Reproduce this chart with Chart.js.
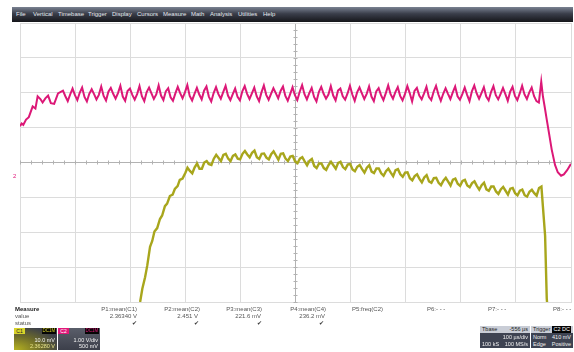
<!DOCTYPE html>
<html>
<head>
<meta charset="utf-8">
<script src="https://cdn.jsdelivr.net/npm/chart.js@4/dist/chart.umd.min.js"></script>
<style>
  html, body { margin: 0; padding: 0; background: #fff; }
  body { width: 574px; height: 352px; position: relative; overflow: hidden;
         font-family: "Liberation Sans", Arial, sans-serif; }
  #scope { position: absolute; left: 0; top: 0; }
  .menubar { position: absolute; left: 12px; top: 7px; width: 561px; height: 15px;
             background: linear-gradient(#7a8292 0%, #3a3e4a 45%, #15161a 100%); }
  .menubar span { position: absolute; top: 4px; font-size: 6px; line-height: 7px; color: #e6e8ee; white-space: nowrap; }
  .t { position: absolute; font-size: 6px; line-height: 7px; color: #555; white-space: nowrap; }
  .r { text-align: right; }
  .b { font-weight: bold; color: #222; }
  .chk { position: absolute; font-size: 6px; line-height: 7px; color: #333; }
  .box { position: absolute; overflow: hidden; }
  .box .row { position: absolute; left: 0; right: 0; font-size: 5.5px; line-height: 6px; white-space: nowrap; }
</style>
</head>
<body>
<canvas id="scope" width="574" height="352"></canvas>

<div class="menubar">
  <span style="left:4px">File</span>
  <span style="left:21px">Vertical</span>
  <span style="left:46px">Timebase</span>
  <span style="left:76px">Trigger</span>
  <span style="left:100px">Display</span>
  <span style="left:125px">Cursors</span>
  <span style="left:151px">Measure</span>
  <span style="left:179px">Math</span>
  <span style="left:198px">Analysis</span>
  <span style="left:226px">Utilities</span>
  <span style="left:251px">Help</span>
</div>

<!-- measurement table -->
<div class="t b" style="left:15px; top:306px">Measure</div>
<div class="t" style="left:15px; top:313px">value</div>
<div class="t" style="left:15px; top:320px">status</div>

<div class="t r" style="right:437px; top:306px">P1:mean(C1)</div>
<div class="t r" style="right:437px; top:313px">2.36340 V</div>
<div class="chk" style="left:132px; top:320px">✔</div>

<div class="t r" style="right:374px; top:306px">P2:mean(C2)</div>
<div class="t r" style="right:376px; top:313px">2.451 V</div>
<div class="chk" style="left:194px; top:320px">✔</div>

<div class="t r" style="right:312px; top:306px">P3:mean(C3)</div>
<div class="t r" style="right:313px; top:313px">221.6 mV</div>
<div class="chk" style="left:257px; top:320px">✔</div>

<div class="t r" style="right:248px; top:306px">P4:mean(C4)</div>
<div class="t r" style="right:249px; top:313px">236.2 mV</div>
<div class="chk" style="left:319px; top:320px">✔</div>

<div class="t" style="left:352px; top:306px">P5:freq(C2)</div>
<div class="t" style="left:427px; top:306px">P6:- - -</div>
<div class="t" style="left:488px; top:306px">P7:- - -</div>
<div class="t" style="left:553px; top:306px">P8:- - -</div>

<!-- channel descriptors -->
<div class="box" style="left:14px; top:328px; width:43px; height:22px; background: radial-gradient(ellipse at 0% 100%, #b8b420 0%, #6e6c2a 45%, #3c3f4a 80%);">
  <div style="position:absolute; left:0; top:0; width:11px; height:6px; background:#d8d42a; color:#222; font-size:5px; line-height:6px; text-align:center;">C1</div>
  <div style="position:absolute; right:1px; top:0; width:14px; height:6px; background:#050505; color:#d8d42a; font-size:4.5px; line-height:6px; text-align:center;">DC1M</div>
  <div class="row" style="top:9px; text-align:right; padding-right:2px; color:#f4f4f4;">10.0 mV</div>
  <div class="row" style="top:15px; text-align:right; padding-right:2px; color:#e8e48a;">2.36280 V</div>
</div>
<div class="box" style="left:58px; top:328px; width:42px; height:22px; background: linear-gradient(#5a5e6a, #3c3f4a);">
  <div style="position:absolute; left:0; top:0; width:11px; height:6px; background:#e0187a; color:#fff; font-size:5px; line-height:6px; text-align:center;">C2</div>
  <div style="position:absolute; right:1px; top:0; width:14px; height:6px; background:#050505; color:#e0187a; font-size:4.5px; line-height:6px; text-align:center;">DC1M</div>
  <div class="row" style="top:9px; text-align:right; padding-right:2px; color:#f4f4f4;">1.00 V/div</div>
  <div class="row" style="top:15px; text-align:right; padding-right:2px; color:#f4f4f4;">500 mV</div>
</div>

<!-- timebase / trigger descriptors -->
<div class="box" style="left:480px; top:326px; width:50px; height:22px; background:#3e4352;">
  <div class="row" style="top:0; height:7px; line-height:7px; background:#c9cdd6; color:#222; padding:0 2px;">Tbase<span style="float:right">-556 µs</span></div>
  <div class="row" style="top:8px; text-align:right; padding-right:2px; color:#f0f0f0;">100 µs/div</div>
  <div class="row" style="top:15px; color:#f0f0f0; padding:0 2px;">100 kS<span style="float:right">100 MS/s</span></div>
</div>
<div class="box" style="left:531px; top:326px; width:42px; height:22px; background:#3e4352;">
  <div class="row" style="top:0; height:7px; line-height:7px; background:#c9cdd6; color:#222; padding:0 2px;">Trigger<span style="float:right; background:#050505; color:#fff; padding:0 1px;">C2 DC</span></div>
  <div class="row" style="top:8px; color:#f0f0f0; padding:0 2px;">Norm<span style="float:right">410 mV</span></div>
  <div class="row" style="top:15px; color:#f0f0f0; padding:0 2px;">Edge<span style="float:right">Positive</span></div>
</div>

<div style="position:absolute; left:13px; top:173px; font-size:6px; line-height:7px; color:#e0187a;">2</div>

<script>
// Screen: 10 horizontal divisions of 100 µs, 8 vertical divisions.
const TIME_SPAN_US = 1000;
const DIVS_V = 4;

// C2 (magenta, 1.00 V/div) – values in divisions from screen centre
const c2StartTimes = [0, 3, 6, 11, 16, 23, 28, 32, 37, 41, 46, 51, 56, 62, 69];
const c2StartDivs  = [1.04, 1.12, 1.08, 1.23, 1.30, 1.61, 1.55, 1.90, 1.82, 1.72, 1.84, 1.92, 1.70, 1.68, 1.98];

// ripple section, four samples per ripple period
const c2RippleStartUs = 78;
const c2RippleStepUs = 4.34;
const c2RippleDivs = [
  2.06,1.90,1.76,1.95, 2.12,1.93,1.79,2.00, 2.15,1.88,1.75,1.97, 2.10,1.96,1.81,1.94, 2.18,1.91,1.78,2.03,
  2.14,1.97,1.83,1.99, 2.20,1.89,1.77,2.05, 2.12,1.94,1.80,1.96, 2.19,1.90,1.76,2.02, 2.15,1.98,1.82,1.95,
  2.21,1.92,1.79,2.04, 2.13,1.87,1.77,1.98, 2.17,1.99,1.84,2.01, 2.22,1.91,1.78,1.97, 2.14,1.95,1.81,2.06,
  2.18,1.89,1.75,1.99, 2.16,1.96,1.83,2.02, 2.20,1.92,1.79,1.96, 2.12,1.88,1.78,2.04, 2.19,1.97,1.82,1.98,
  2.15,1.90,1.76,2.01, 2.21,1.94,1.80,1.97, 2.13,1.99,1.84,2.05, 2.18,1.91,1.77,1.96, 2.16,1.93,1.79,2.03,
  2.22,1.96,1.81,1.99, 2.14,1.88,1.75,2.02, 2.17,1.97,1.83,1.95, 2.19,1.92,1.78,2.06, 2.12,1.90,1.80,1.98,
  2.20,1.95,1.77,2.01, 2.15,1.98,1.82,1.97, 2.18,1.89,1.76,2.04, 2.13,1.93,1.79,1.99, 2.21,1.96,1.83,2.02,
  2.16,1.91,1.78,1.96, 2.19,1.99,1.75,2.05, 2.14,1.92,1.81,1.98, 2.17,1.88,1.79,2.03, 2.20,1.95,1.77,1.97,
  2.13,1.97,1.82,2.01, 2.18,1.90,1.80,1.96, 2.15,1.94,1.76,2.04, 2.21,1.98,1.83,1.99, 2.16,1.89,1.78,2.02,
  2.19,1.93,1.81,1.97, 2.14,1.96,1.77,2.03, 2.17,1.91,1.79,1.98, 2.20,1.95,1.82,2.01, 2.15,1.90,1.76,1.72,
  2.32
];

const c2EndTimes = [949, 952, 956, 960, 965, 971, 976, 982, 987, 993, 1000];
const c2EndDivs  = [1.90, 1.62, 1.23, 0.85, 0.37, -0.07, -0.28, -0.38, -0.34, -0.22, -0.04];

// C1 (olive, 10.0 mV/div)
const c1RiseTimes = [214, 218, 222, 227, 231, 236, 240, 244, 249, 254, 258, 263, 267, 272, 277, 281, 286, 290, 295, 300];
const c1RiseDivs  = [-4.3, -4.0, -3.62, -3.29, -2.95, -2.42, -2.25, -1.98, -1.88, -1.62, -1.52, -1.25, -1.18, -0.96, -0.92, -0.76, -0.68, -0.50, -0.46, -0.30];

const c1PlateauStartUs = 304;
const c1PlateauStepUs = 4.34;
const c1PlateauDivs = [
  -0.15,-0.24,-0.31,-0.14,-0.03,-0.18,-0.18,0.00,0.04,-0.05,
  -0.07,0.11,0.22,0.13,0.04,0.22,0.25,0.11,0.04,0.19,
  0.23,0.11,0.09,0.25,0.33,0.23,0.15,0.28,0.34,0.15,
  0.10,0.25,0.26,0.14,0.09,0.24,0.32,0.20,0.08,0.25,
  0.26,0.11,0.04,0.17,0.19,0.03,-0.02,0.11,0.15,0.03,
  -0.08,0.05,0.10,-0.10,-0.16,-0.03,-0.03,-0.16,-0.21,-0.07,
  0.02,-0.08,-0.18,-0.01,0.02,-0.13,-0.19,-0.06,-0.04,-0.20,
  -0.25,-0.12,-0.07,-0.19,-0.29,-0.15,-0.08,-0.26,-0.30,-0.17,
  -0.17,-0.31,-0.38,-0.25,-0.18,-0.29,-0.39,-0.22,-0.19,-0.34,
  -0.41,-0.29,-0.28,-0.45,-0.51,-0.39,-0.34,-0.47,-0.57,-0.43,
  -0.36,-0.54,-0.58,-0.45,-0.44,-0.58,-0.65,-0.52,-0.44,-0.55,
  -0.66,-0.49,-0.46,-0.61,-0.67,-0.53,-0.50,-0.66,-0.71,-0.59,
  -0.54,-0.67,-0.78,-0.65,-0.58,-0.77,-0.81,-0.69,-0.69,-0.83,
  -0.90,-0.77,-0.70,-0.81,-0.92,-0.75,-0.73,-0.88,-0.94,-0.81,
  -0.78,-0.94,-0.98,-0.84,-0.78,-0.88,-0.95,-0.73,-0.69
];

const c1FallTimes = [949, 953, 956, 958];
const c1FallDivs  = [-1.26, -2.1, -3.9, -4.3];

function pairs(times, vals) {
  return times.map((t, i) => ({ x: t, y: vals[i] }));
}
function sampled(start, step, vals) {
  return vals.map((v, i) => ({ x: start + i * step, y: v }));
}

const c2Points = [
  ...pairs(c2StartTimes, c2StartDivs),
  ...sampled(c2RippleStartUs, c2RippleStepUs, c2RippleDivs),
  ...pairs(c2EndTimes, c2EndDivs)
];
const c1Points = [
  ...pairs(c1RiseTimes, c1RiseDivs),
  ...sampled(c1PlateauStartUs, c1PlateauStepUs, c1PlateauDivs),
  ...pairs(c1FallTimes, c1FallDivs)
];

const GRID = '#dcdcdc';
const CENTRE = '#b2b2b2';

// small sub-division marks along the two centre lines
const centreTicks = {
  id: 'centreTicks',
  beforeDatasetsDraw(chart) {
    const { ctx, scales: { x, y } } = chart;
    const cy = y.getPixelForValue(0);
    const cx = x.getPixelForValue(TIME_SPAN_US / 2);
    ctx.save();
    ctx.strokeStyle = CENTRE;
    ctx.lineWidth = 1;
    ctx.beginPath();
    for (let t = 0; t <= TIME_SPAN_US; t += 20) {
      const px = Math.round(x.getPixelForValue(t)) + 0.5;
      ctx.moveTo(px, cy - 2); ctx.lineTo(px, cy + 2);
    }
    for (let d = -DIVS_V; d <= DIVS_V; d += 0.2) {
      const py = Math.round(y.getPixelForValue(d)) + 0.5;
      ctx.moveTo(cx - 2, py); ctx.lineTo(cx + 2, py);
    }
    ctx.stroke();
    ctx.restore();
  }
};

new Chart(document.getElementById('scope'), {
  type: 'line',
  data: {
    datasets: [
      { label: 'C2', data: c2Points, borderColor: '#dc1877', borderWidth: 2, pointRadius: 0, tension: 0 },
      { label: 'C1', data: c1Points, borderColor: '#a8a61c', borderWidth: 2.4, pointRadius: 0, tension: 0 }
    ]
  },
  options: {
    responsive: false,
    animation: false,
    devicePixelRatio: 1,
    layout: { padding: { left: 20, right: 3, top: 23, bottom: 50 } },
    plugins: { legend: { display: false }, tooltip: { enabled: false } },
    scales: {
      x: {
        type: 'linear', min: 0, max: TIME_SPAN_US,
        ticks: { display: false, stepSize: 100 },
        grid: { drawTicks: false, color: c => c.tick && c.tick.value === TIME_SPAN_US / 2 ? CENTRE : GRID },
        border: { color: GRID }
      },
      y: {
        type: 'linear', min: -DIVS_V, max: DIVS_V,
        ticks: { display: false, stepSize: 1 },
        grid: { drawTicks: false, color: c => c.tick && c.tick.value === 0 ? CENTRE : GRID },
        border: { color: GRID }
      }
    }
  },
  plugins: [centreTicks]
});
</script>
</body>
</html>
